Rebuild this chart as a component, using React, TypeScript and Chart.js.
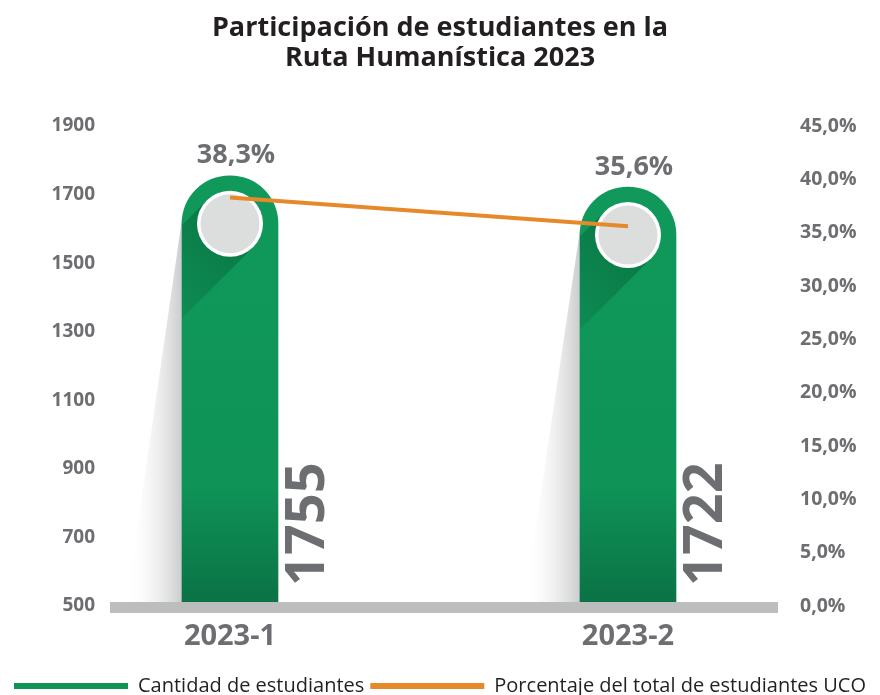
import React, { useEffect, useRef } from 'react';
import { Chart, registerables } from 'chart.js';

Chart.register(...registerables);

// ---- data ----
const titleLines = ['Participación de estudiantes en la', 'Ruta Humanística 2023'];
const categories = ['2023-1', '2023-2'];
const students = [1755, 1722];
const percentages = [38.3, 35.6];
const seriesNames = ['Cantidad de estudiantes', 'Porcentaje del total de estudiantes UCO'];
const leftMin = 500;
const leftMax = 1900;
const leftStep = 200;
const rightMin = 0;
const rightMax = 45;
const rightStep = 5;

// ---- style ----
const FONT = "'Open Sans', sans-serif";
const GRAY = '#6d6e71';
const DARK = '#231f20';
const GREEN = '#0f9357';
const ORANGE = '#e5892a';
const W = 880;
const H = 706;

const fmtPct = (v: number) => v.toFixed(1).replace('.', ',') + '%';

const barGeom = (chart: any, bar: any) => {
  const { x, y, width, base } = bar.getProps(['x', 'y', 'width', 'base'], true);
  return { x, y, width, base: Math.min(base, chart.chartArea.bottom) };
};

const decorPlugin = {
  id: 'decor',
  beforeDatasetsDraw(chart: any) {
    const ctx = chart.ctx;
    const meta = chart.getDatasetMeta(0);
    meta.data.forEach((bar: any) => {
      const { x, y, width, base } = barGeom(chart, bar);
      const left = x - width / 2;
      const r = width / 2;
      const startY = y + r * 0.9;
      const g = ctx.createLinearGradient(left, 0, left - 56, 0);
      g.addColorStop(0, 'rgba(185,186,188,0.75)');
      g.addColorStop(1, 'rgba(255,255,255,0)');
      ctx.save();
      ctx.beginPath();
      ctx.moveTo(left, startY);
      ctx.lineTo(left, base);
      ctx.lineTo(left - 56, base);
      ctx.closePath();
      ctx.fillStyle = g;
      ctx.fill();
      ctx.restore();
    });
  },
  afterDatasetDraw(chart: any, args: any) {
    if (args.index !== 0) return;
    const ctx = chart.ctx;
    const meta = chart.getDatasetMeta(0);
    meta.data.forEach((bar: any, i: number) => {
      const { x, y, width, base } = barGeom(chart, bar);
      const left = x - width / 2;
      const r = width / 2;
      const cx = x;
      const cy = y + r;
      const cr = 33;
      // long shadow inside the bar
      ctx.save();
      ctx.beginPath();
      ctx.roundRect(left, y, width, base - y, [r, r, 0, 0]);
      ctx.clip();
      const k = cr / Math.SQRT2;
      const L = 150;
      const d = 1 / Math.SQRT2;
      const sg = ctx.createLinearGradient(cx, cy, cx - L * d, cy + L * d);
      sg.addColorStop(0, 'rgba(0,70,35,0.38)');
      sg.addColorStop(1, 'rgba(0,70,35,0)');
      ctx.beginPath();
      ctx.moveTo(cx - k, cy - k);
      ctx.lineTo(cx + k, cy + k);
      ctx.lineTo(cx + k - L * d, cy + k + L * d);
      ctx.lineTo(cx - k - L * d, cy - k + L * d);
      ctx.closePath();
      ctx.fillStyle = sg;
      ctx.fill();
      ctx.restore();
      // circle
      ctx.save();
      ctx.beginPath();
      ctx.arc(cx, cy, cr, 0, Math.PI * 2);
      ctx.fillStyle = '#ffffff';
      ctx.fill();
      ctx.beginPath();
      ctx.arc(cx, cy, cr - 3.5, 0, Math.PI * 2);
      ctx.fillStyle = '#dcdddd';
      ctx.fill();
      ctx.restore();
      // vertical value label
      ctx.save();
      ctx.translate(x + r + 31, base - 20);
      ctx.rotate(-Math.PI / 2);
      ctx.font = `bold 54px ${FONT}`;
      ctx.fillStyle = GRAY;
      ctx.textAlign = 'left';
      ctx.textBaseline = 'middle';
      ctx.fillText(String(students[i]), 0, 0);
      ctx.restore();
    });
  },
  afterDatasetsDraw(chart: any) {
    const ctx = chart.ctx;
    const { left, width, bottom } = chart.chartArea;
    ctx.save();
    ctx.fillStyle = '#bcbdbd';
    ctx.fillRect(left, bottom - 4, width, 11);
    const meta = chart.getDatasetMeta(0);
    ctx.font = `bold 27px ${FONT}`;
    ctx.fillStyle = GRAY;
    ctx.textAlign = 'center';
    ctx.textBaseline = 'middle';
    meta.data.forEach((bar: any, i: number) => {
      const { x, y } = barGeom(chart, bar);
      ctx.fillText(fmtPct(percentages[i]), x + 6, y - 20);
    });
    ctx.restore();
  },
};

export default function App() {
  const ref = useRef<HTMLCanvasElement | null>(null);
  useEffect(() => {
    document.body.style.margin = '0';
    const canvas = ref.current!;
    const chart = new Chart(canvas, {
      type: 'bar',
      data: {
        labels: categories,
        datasets: [
          {
            type: 'bar',
            label: seriesNames[0],
            data: students,
            yAxisID: 'y',
            order: 1,
            barThickness: 96,
            borderRadius: { topLeft: 48, topRight: 48, bottomLeft: 0, bottomRight: 0 },
            borderSkipped: false,
            backgroundColor: (c: any) => {
              const ca = c.chart.chartArea;
              if (!ca) return GREEN;
              const g = c.chart.ctx.createLinearGradient(0, ca.top, 0, ca.bottom);
              g.addColorStop(0, '#109a5c');
              g.addColorStop(0.75, '#0f9357');
              g.addColorStop(1, '#0b7145');
              return g;
            },
          } as any,
          {
            type: 'line',
            label: seriesNames[1],
            data: percentages,
            yAxisID: 'y1',
            order: 0,
            borderColor: ORANGE,
            backgroundColor: ORANGE,
            borderWidth: 4,
            pointRadius: 0,
            tension: 0,
          } as any,
        ],
      },
      options: {
        responsive: false,
        animation: false,
        devicePixelRatio: 1,
        layout: { padding: 0 },
        plugins: {
          title: {
            display: true,
            text: titleLines,
            color: DARK,
            font: { family: FONT, size: 27, weight: 'bold', lineHeight: 30 / 27 },
            padding: { top: 13, bottom: 53 },
          },
          legend: {
            position: 'bottom',
            labels: {
              boxWidth: 114,
              boxHeight: 6,
              padding: 6,
              color: DARK,
              font: { family: FONT, size: 20 },
              generateLabels: () => [
                { text: seriesNames[0], fillStyle: GREEN, strokeStyle: GREEN, lineWidth: 0, hidden: false, datasetIndex: 0, fontColor: DARK },
                { text: seriesNames[1], fillStyle: ORANGE, strokeStyle: ORANGE, lineWidth: 0, hidden: false, datasetIndex: 1, fontColor: DARK },
              ],
            },
          },
          tooltip: { enabled: false },
        },
        scales: {
          x: {
            type: 'category',
            grid: { display: false, drawTicks: false },
            border: { display: false },
            ticks: { color: GRAY, font: { family: FONT, size: 29, weight: 'bold' }, padding: 13 },
            afterBuildTicks: (s: any) => {
              s._startValue = -0.3015;
              s._valueRange = 1.6784;
            },
            afterFit: (s: any) => {
              s.height = 64;
            },
          },
          y: {
            position: 'left',
            min: leftMin,
            max: leftMax,
            grid: { display: false, drawTicks: false },
            border: { display: false },
            ticks: {
              stepSize: leftStep,
              color: GRAY,
              font: { family: FONT, size: 19, weight: 'bold' },
              padding: 15,
              callback: (v: any) => String(v),
            },
            afterFit: (s: any) => {
              s.width = 110;
            },
          },
          y1: {
            position: 'right',
            min: rightMin,
            max: rightMax,
            grid: { display: false, drawTicks: false },
            border: { display: false },
            ticks: {
              stepSize: rightStep,
              color: GRAY,
              font: { family: FONT, size: 19.5, weight: 'bold' },
              padding: 22,
              callback: (v: any) => fmtPct(Number(v)),
            },
            afterFit: (s: any) => {
              s.width = 102;
            },
          },
        },
      } as any,
      plugins: [decorPlugin],
    });
    return () => chart.destroy();
  }, []);

  return (
    <div style={{ position: 'fixed', left: 0, top: 0, width: W, height: 695, overflow: 'hidden', background: '#fff' }}>
      <canvas ref={ref} width={W} height={H} style={{ display: 'block', width: W, height: H }} />
    </div>
  );
}
